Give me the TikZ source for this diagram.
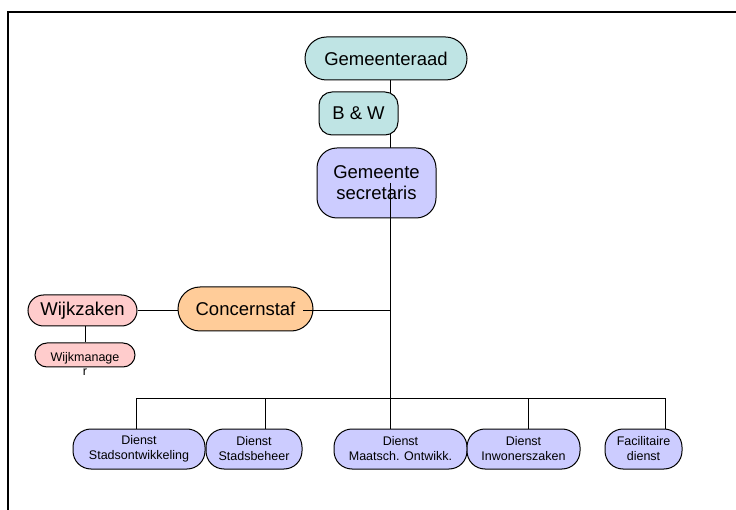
\documentclass[tikz,border=0pt]{standalone}
\usepackage{fontspec}
\setmainfont{Liberation Sans}
\usetikzlibrary{backgrounds}
\definecolor{tealfill}{RGB}{191,228,228}
\definecolor{lavfill}{RGB}{204,204,255}
\definecolor{orgfill}{RGB}{255,204,153}
\definecolor{pinkfill}{RGB}{255,204,204}
\begin{document}
\begin{tikzpicture}[x=1pt,y=-1pt,
  orgbox/.style={draw=black, line width=1pt, align=center, inner sep=0pt},
  bigtext/.style={font=\fontsize{18.5}{21}\selectfont},
  smalltext/.style={font=\fontsize{12.5}{15}\selectfont},
  wire/.style={draw=black, line width=1pt},
  dienst/.style={orgbox, smalltext, fill=lavfill, minimum height=40pt, rounded corners=18pt}
]
\useasboundingbox (0,0) rectangle (736,510);
% frame
\draw[line width=1.6pt] (8,510) -- (8,12) -- (736,12);

% nodes
\node[orgbox, bigtext, fill=tealfill, minimum width=162pt, minimum height=43pt, rounded corners=21.5pt] (gr) at (386,58.5) {Gemeenteraad};
\node[orgbox, bigtext, fill=tealfill, minimum width=79pt, minimum height=43pt, rounded corners=13pt] (bw) at (358.5,113.5) {B \& W};
\node[orgbox, bigtext, fill=lavfill, minimum width=119pt, minimum height=70pt, rounded corners=20pt] (sec) at (376.5,183) {Gemeente\\secretaris};
\node[orgbox, bigtext, fill=orgfill, minimum width=135pt, minimum height=44pt, rounded corners=22pt] (cs) at (245.5,309) {Concernstaf};
\node[orgbox, bigtext, fill=pinkfill, minimum width=109pt, minimum height=31pt, rounded corners=15.5pt] (wz) at (82.5,310.5) {Wijkzaken};
\node[orgbox, fill=pinkfill, minimum width=100pt, minimum height=24pt, rounded corners=12pt] (wm) at (85,355) {};
\node[font=\fontsize{12.5}{13.5}\selectfont, align=center, anchor=north, inner sep=0pt] (wmtext) at (85,352.5) {Wijkmanage\\r};

\node[dienst, minimum width=132pt] (d1) at (139,449) {Dienst\\Stadsontwikkeling};
\node[dienst, minimum width=96pt] (d2) at (254,449) {Dienst\\Stadsbeheer};
\node[dienst, minimum width=133pt] (d3) at (400.5,449) {Dienst\\Maatsch. Ontwikk.};
\node[dienst, minimum width=113pt] (d4) at (523.5,449) {Dienst\\Inwonerszaken};
\node[dienst, minimum width=77pt] (d5) at (643.5,449) {Facilitaire\\dienst};

% bus coordinates
\coordinate (spine) at (390,183);
\coordinate (busmid) at (390,398);
\coordinate (b1) at (136,398);
\coordinate (b2) at (265,398);
\coordinate (b4) at (528,398);
\coordinate (b5) at (665,398);
\coordinate (cstap) at (390,311);
\coordinate (csin) at (303,311);

% connectors behind nodes
\begin{scope}[on background layer]
  \draw[wire] (gr.south -| spine) -- (spine);
  \draw[wire] (wz.east |- csin) -- (cs.west |- csin);
  \draw[wire] (wm.north) -- (wm.north |- wz.south);
\end{scope}

% connectors on top
\draw[wire] (spine) -- (busmid);
\draw[wire] (csin) -- (cstap);
\draw[wire] (b1) -- (b5);
\draw[wire] (b1) -- (b1 |- d1.north);
\draw[wire] (b2) -- (b2 |- d2.north);
\draw[wire] (busmid) -- (busmid |- d3.north);
\draw[wire] (b4) -- (b4 |- d4.north);
\draw[wire] (b5) -- (b5 |- d5.north);
\end{tikzpicture}
\end{document}
